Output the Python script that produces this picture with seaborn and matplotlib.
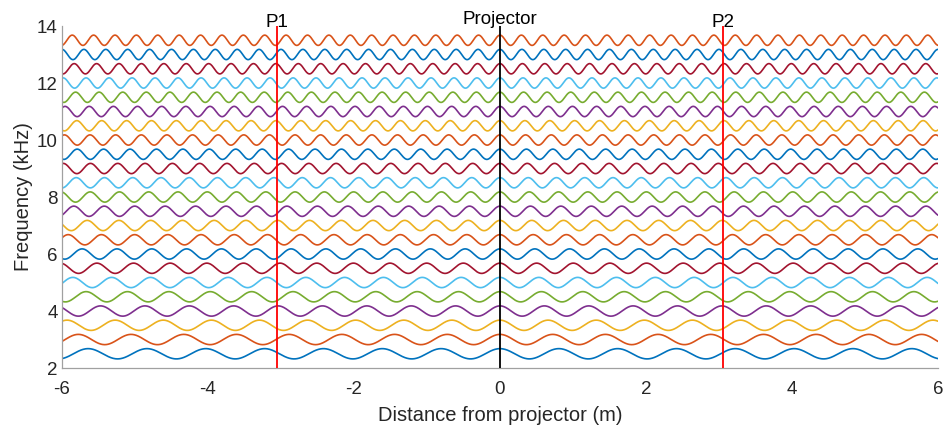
import numpy as np
import pandas as pd
import matplotlib
matplotlib.use("Agg")
import matplotlib.pyplot as plt
import seaborn as sns

# ---- data ----
frequencies_khz = [2.5, 3.0, 3.5, 4.0, 4.5, 5.0, 5.5, 6.0, 6.5, 7.0, 7.5, 8.0,
                   8.5, 9.0, 9.5, 10.0, 10.5, 11.0, 11.5, 12.0, 12.5, 13.0, 13.5]
# apparent spatial period (m) of each trace
wavelengths_m = [0.806, 0.722, 0.659, 0.608, 0.567, 0.532, 0.502, 0.477, 0.455,
                 0.435, 0.417, 0.401, 0.387, 0.374, 0.362, 0.351, 0.341, 0.331,
                 0.323, 0.315, 0.307, 0.300, 0.293]
amplitude_khz = 0.18
marker_positions = [-3.05, 0.0, 3.05]
marker_labels = ["P1", "Projector", "P2"]
marker_colors = ["#FF0000", "#000000", "#FF0000"]
x_ticks = [-6, -4, -2, 0, 2, 4, 6]
y_ticks = [2, 4, 6, 8, 10, 12, 14]

matlab_colors = ["#0072BD", "#D95319", "#EDB120", "#7E2F8E",
                 "#77AC30", "#4DBEEE", "#A2142F"]

sns.set_theme(style="white")
plt.rcParams["font.family"] = ["Liberation Sans", "DejaVu Sans"]
plt.rcParams["axes.unicode_minus"] = False

x = np.linspace(-6, 6, 2401)
rows = []
for f, lam in zip(frequencies_khz, wavelengths_m):
    rows.append(pd.DataFrame({
        "distance": x,
        "value": f + amplitude_khz * np.cos(2 * np.pi * x / lam),
        "freq": f,
    }))
df = pd.concat(rows, ignore_index=True)
palette = {f: matlab_colors[i % 7] for i, f in enumerate(frequencies_khz)}

fig = plt.figure(figsize=(9.51, 4.32), dpi=100)
ax = fig.add_axes([0.0652, 0.1481, 0.9211, 0.7917])

sns.lineplot(data=df, x="distance", y="value", hue="freq", palette=palette,
             estimator=None, sort=False, linewidth=1.2, legend=False, ax=ax)

for pos, lab, col in zip(marker_positions, marker_labels, marker_colors):
    ax.plot([pos, pos], [2, 14], color=col, linewidth=1.3, zorder=5)
    ypos = 14.07 if lab == "Projector" else 13.96
    ax.text(pos, ypos, lab, ha="center", va="baseline", fontsize=13.5,
            color="#000000", clip_on=False)

ax.set_xlim(-6, 6)
ax.set_ylim(2, 14)
ax.set_xticks(x_ticks)
ax.set_yticks(y_ticks)
ax.tick_params(direction="in", length=4, width=0.8, colors="#808080",
               labelcolor="#262626", labelsize=13.5)
ax.tick_params(axis="x", pad=9)
ax.tick_params(axis="y", pad=3)
for side in ["top", "right"]:
    ax.spines[side].set_visible(False)
for side in ["left", "bottom"]:
    ax.spines[side].set_color("#a0a0a0")
    ax.spines[side].set_linewidth(0.9)
ax.set_xlabel("Distance from projector (m)", fontsize=14.5, color="#262626", labelpad=6)
ax.set_ylabel("Frequency (kHz)", fontsize=14.5, color="#262626", labelpad=3)

fig.savefig("out.png", dpi=100)
